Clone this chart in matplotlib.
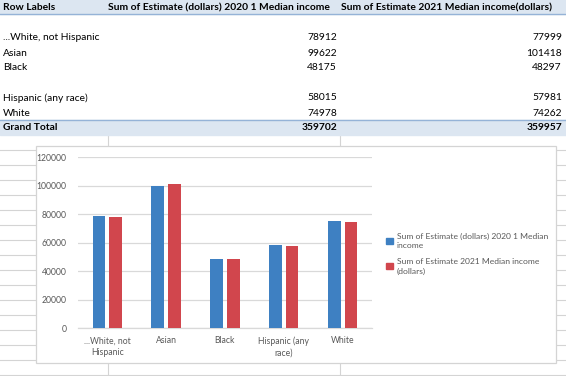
import numpy as np
import matplotlib
matplotlib.use("Agg")
import matplotlib.pyplot as plt
from matplotlib.patches import Rectangle, Patch

plt.rcParams['font.family'] = ['Lato', 'DejaVu Sans']

# pivot table data (blank labels are the empty rows)
row_labels = ["", "...White, not Hispanic", "Asian", "Black", "", "Hispanic (any race)", "White"]
income_2020 = [None, 78912, 99622, 48175, None, 58015, 74978]
income_2021 = [None, 77999, 101418, 48297, None, 57981, 74262]
header = ["Row Labels", "Sum of Estimate (dollars) 2020 1 Median income",
          "Sum of Estimate 2021 Median income(dollars)"]
total_label = "Grand Total"
total_2020 = 359702
total_2021 = 359957

# chart data
categories = ["...White, not\nHispanic", "Asian", "Black", "Hispanic (any\nrace)", "White"]
chart_2020 = [78912, 99622, 48175, 58015, 74978]
chart_2021 = [77999, 101418, 48297, 57981, 74262]
series_names = ["Sum of Estimate (dollars) 2020 1 Median\nincome",
                "Sum of Estimate 2021 Median income\n(dollars)"]

W, H = 566, 376
fig = plt.figure(figsize=(W / 100, H / 100), dpi=100)

# sheet layer in pixel coordinates
bg = fig.add_axes([0, 0, 1, 1])
bg.set_xlim(0, W)
bg.set_ylim(H, 0)
bg.axis('off')

grid_c = '#D4D4D4'
band_c = '#DCE6F1'
border_c = '#95B3D7'
row_h = 15

# cell gridlines below the pivot table
for y in np.arange(150, H + 1, row_h):
    bg.plot([0, W], [y, y], color=grid_c, lw=0.8, zorder=1)
for x in [108, 340]:
    bg.plot([x, x], [135, H], color=grid_c, lw=0.8, zorder=1)

# header band
bg.add_patch(Rectangle((0, 0), W, 13.5, color=band_c, zorder=2))
bg.plot([0, W], [13.5, 13.5], color=border_c, lw=1, zorder=3)
tfs = 7.4
bg.text(3, 7.5, header[0], fontsize=tfs, weight='bold', va='center', ha='left')
bg.text(108, 7.5, header[1], fontsize=tfs, weight='bold', va='center', ha='left')
bg.text(341, 7.5, header[2], fontsize=tfs, weight='bold', va='center', ha='left')

# body rows
for i, lab in enumerate(row_labels):
    yc = 23 + i * row_h
    if lab:
        bg.text(3, yc, lab, fontsize=tfs, va='center', ha='left')
    if income_2020[i] is not None:
        bg.text(337, yc, str(income_2020[i]), fontsize=tfs, va='center', ha='right')
        bg.text(562, yc, str(income_2021[i]), fontsize=tfs, va='center', ha='right')

# grand total band
bg.add_patch(Rectangle((0, 119.5), W, 15.5, color=band_c, zorder=2))
bg.plot([0, W], [119.5, 119.5], color=border_c, lw=1, zorder=3)
bg.text(3, 128, total_label, fontsize=tfs, weight='bold', va='center', ha='left', zorder=4)
bg.text(337, 128, str(total_2020), fontsize=tfs, weight='bold', va='center', ha='right', zorder=4)
bg.text(562, 128, str(total_2021), fontsize=tfs, weight='bold', va='center', ha='right', zorder=4)

# chart area box
bg.add_patch(Rectangle((36, 146), 520, 217, facecolor='white', edgecolor=grid_c, lw=0.9, zorder=5))

# plot area
left, right, top, bottom = 77.8, 372, 157.3, 328
ax = fig.add_axes([left / W, 1 - bottom / H, (right - left) / W, (bottom - top) / H])
ax.set_zorder(6)
ax.patch.set_alpha(0)

x = np.arange(len(categories))
bw = 0.216
off = 0.142
blue = '#3E80C2'
red = '#D1464D'
ax.bar(x - off, chart_2020, bw, color=blue, zorder=3)
ax.bar(x + off, chart_2021, bw, color=red, zorder=3)

ax.set_xlim(-0.5, len(categories) - 0.5)
ax.set_ylim(0, 120000)
ax.set_yticks(np.arange(0, 120001, 20000))
ax.yaxis.grid(True, color='#D9D9D9', lw=0.9, zorder=0)
ax.set_axisbelow(True)
for s in ['top', 'right', 'left']:
    ax.spines[s].set_visible(False)
ax.spines['bottom'].set_color('#D9D9D9')
ax.spines['bottom'].set_linewidth(0.9)
ax.set_xticks(x)
ax.set_xticklabels(categories, linespacing=1.35)
ax.tick_params(axis='both', length=0, labelsize=6.2, colors='#595959')
ax.tick_params(axis='y', pad=8)
ax.tick_params(axis='x', pad=6)
for t in ax.get_yticklabels():
    t.set_clip_on(False)

handles = [Patch(color=blue), Patch(color=red)]
leg = fig.legend(handles, series_names, loc='upper left', bbox_to_anchor=(383 / W, 1 - 229 / H),
                 frameon=False, fontsize=6.1, labelcolor='#595959', handlelength=0.75,
                 handleheight=0.75, handletextpad=0.45, labelspacing=1.0, borderaxespad=0)
for t in leg.get_texts():
    t.set_linespacing(1.45)

fig.savefig('out.png', dpi=100)
